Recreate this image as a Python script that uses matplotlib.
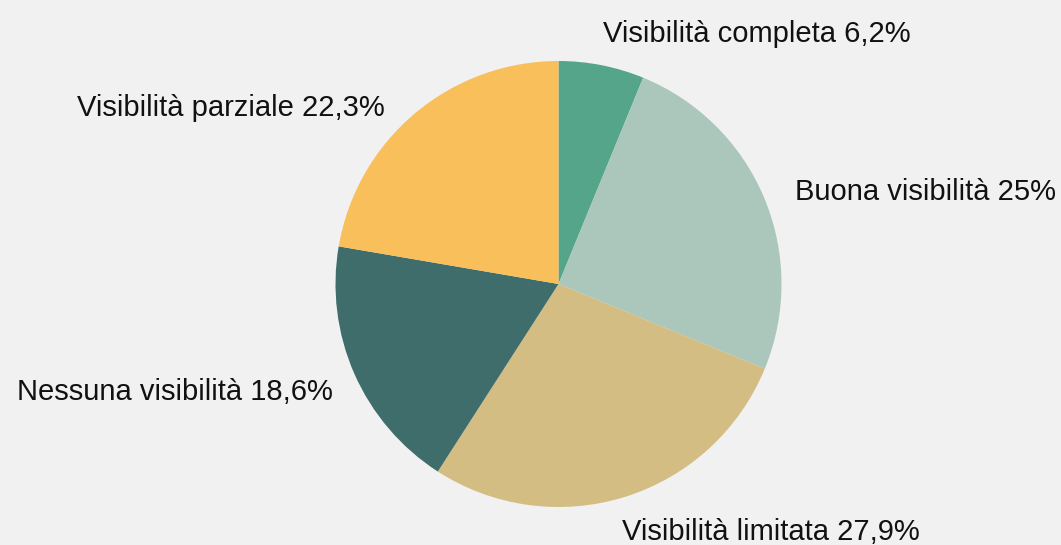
import matplotlib
matplotlib.use("Agg")
import matplotlib.pyplot as plt

categories = ["Visibilità completa", "Buona visibilità", "Visibilità limitata",
              "Nessuna visibilità", "Visibilità parziale"]
values = [6.2, 25, 27.9, 18.6, 22.3]
value_labels = ["6,2%", "25%", "27,9%", "18,6%", "22,3%"]
colors = ["#55a58b", "#abc6bb", "#d3bd82", "#3f6d6b", "#f8bf5b"]

# small label nudges in pixels (dx right, dy down)
label_nudge_px = [(-4, -3), (4, 5), (-12, 8), (5, 6), (-11, 17)]

plt.rcParams['font.family'] = ['Liberation Sans', 'DejaVu Sans']

W, H = 1061, 545
fig = plt.figure(figsize=(W / 100, H / 100), dpi=100, facecolor="#f1f1f1")
ax = fig.add_axes([0, 0, 1, 1])
ax.set_facecolor("#f1f1f1")

labels = [f"{c} {v}" for c, v in zip(categories, value_labels)]
wedges, texts = ax.pie(values, labels=labels, colors=colors, startangle=90,
                       counterclock=False, labeldistance=1.13,
                       textprops=dict(fontsize=21, color="#111111"))

# layout: pie centre at (558.5, 284) px from top-left, radius 223 px
cx, cy, r = 558.5, H - 284, 223.0
ax.set_xlim(-cx / r, (W - cx) / r)
ax.set_ylim(-cy / r, (H - cy) / r)
ax.set_aspect('equal', adjustable='datalim')
ax.axis('off')

for t, (dx, dy) in zip(texts, label_nudge_px):
    x, y = t.get_position()
    t.set_position((x + dx / r, y - dy / r))

fig.savefig("out.png", dpi=100, facecolor=fig.get_facecolor())
